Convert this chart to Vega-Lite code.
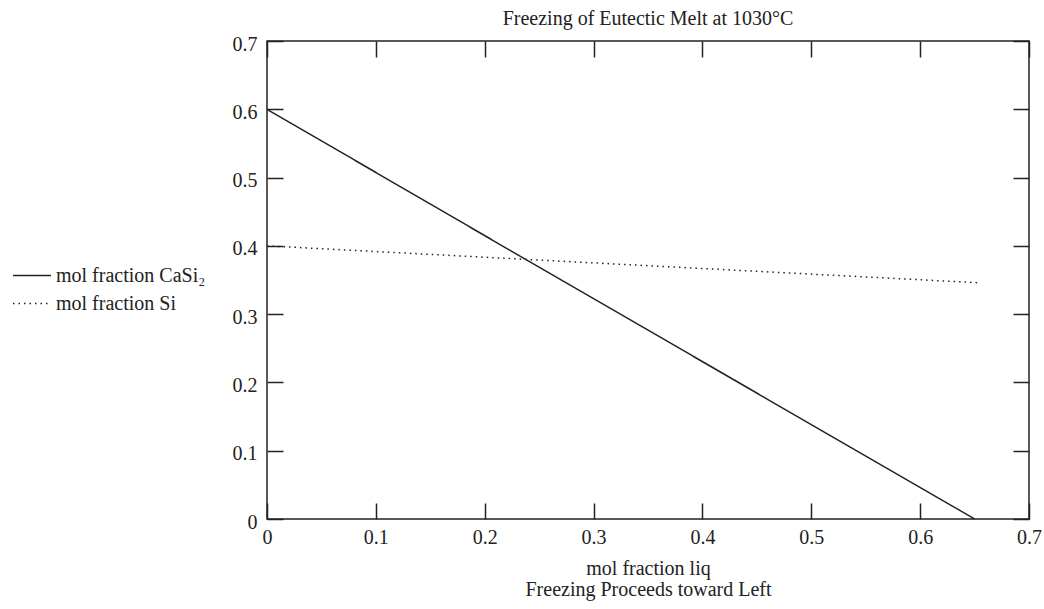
{
  "$schema": "https://vega.github.io/schema/vega-lite/v6.json",
  "width": 762,
  "height": 478,
  "autosize": {"type": "none"},
  "padding": {"left": 267, "top": 41, "right": 15, "bottom": 90},
  "background": "white",
  "config": {
    "font": "Liberation Serif",
    "view": {"stroke": "#222", "strokeWidth": 1.5},
    "axis": {
      "domain": false,
      "grid": false,
      "tickColor": "#222",
      "tickWidth": 1.5,
      "tickSize": -16,
      "labelFont": "Liberation Serif",
      "labelFontSize": 20,
      "labelColor": "#222",
      "titleFont": "Liberation Serif",
      "titleFontSize": 20,
      "titleColor": "#222",
      "titleFontWeight": "normal"
    },
    "legend": {
      "labelFont": "Liberation Serif",
      "labelFontSize": 20,
      "labelColor": "#222"
    }
  },
  "title": {
    "text": "Freezing of Eutectic Melt at 1030°C",
    "font": "Liberation Serif",
    "fontSize": 20,
    "fontWeight": "normal",
    "color": "#222",
    "anchor": "middle",
    "offset": 5
  },
  "data": {
    "values": [
      {"liq": 0, "frac": 0.6, "series": "mol fraction CaSi₂"},
      {"liq": 0.24, "frac": 0.378, "series": "mol fraction CaSi₂"},
      {"liq": 0.65, "frac": 0, "series": "mol fraction CaSi₂"},
      {"liq": 0, "frac": 0.4, "series": "mol fraction Si"},
      {"liq": 0.24, "frac": 0.38, "series": "mol fraction Si"},
      {"liq": 0.653, "frac": 0.346, "series": "mol fraction Si"}
    ]
  },
  "layer": [
    {
      "mark": {"type": "line", "strokeWidth": 1.5, "color": "#222"},
      "encoding": {
        "x": {
          "field": "liq",
          "type": "quantitative",
          "scale": {"domain": [0, 0.7], "nice": false, "zero": false},
          "axis": {
            "values": [0, 0.1, 0.2, 0.3, 0.4, 0.5, 0.6, 0.7],
            "format": ".1~f",
            "labelPadding": 24,
            "labelFlush": false,
            "title": ["mol fraction liq", "Freezing Proceeds toward Left"],
            "titleLineHeight": 21,
            "titlePadding": 11
          }
        },
        "y": {
          "field": "frac",
          "type": "quantitative",
          "scale": {"domain": [0, 0.7], "nice": false, "zero": false},
          "axis": {
            "values": [0, 0.1, 0.2, 0.3, 0.4, 0.5, 0.6, 0.7],
            "format": ".1~f",
            "labelPadding": 26,
            "labelOffset": 3,
            "labelFlush": false,
            "title": null
          }
        },
        "strokeDash": {
          "field": "series",
          "type": "nominal",
          "scale": {
            "domain": ["mol fraction CaSi₂", "mol fraction Si"],
            "range": [[1, 0], [1.5, 4]]
          },
          "legend": {
            "title": null,
            "orient": "none",
            "legendX": -255,
            "legendY": 224,
            "padding": 0,
            "symbolType": "M-1,0H3",
            "symbolSize": 361,
            "symbolStrokeColor": "#222",
            "symbolStrokeWidth": 1.5,
            "labelOffset": 23,
            "rowPadding": 7
          }
        }
      }
    },
    {
      "mark": {"type": "line", "opacity": 0},
      "encoding": {
        "x": {
          "field": "liq",
          "type": "quantitative",
          "axis": {
            "orient": "top",
            "values": [0, 0.1, 0.2, 0.3, 0.4, 0.5, 0.6, 0.7],
            "labels": false,
            "title": null
          }
        },
        "y": {
          "field": "frac",
          "type": "quantitative",
          "axis": {
            "orient": "right",
            "values": [0, 0.1, 0.2, 0.3, 0.4, 0.5, 0.6, 0.7],
            "labels": false,
            "title": null
          }
        },
        "detail": {"field": "series", "type": "nominal"}
      }
    }
  ],
  "resolve": {"axis": {"x": "independent", "y": "independent"}}
}
